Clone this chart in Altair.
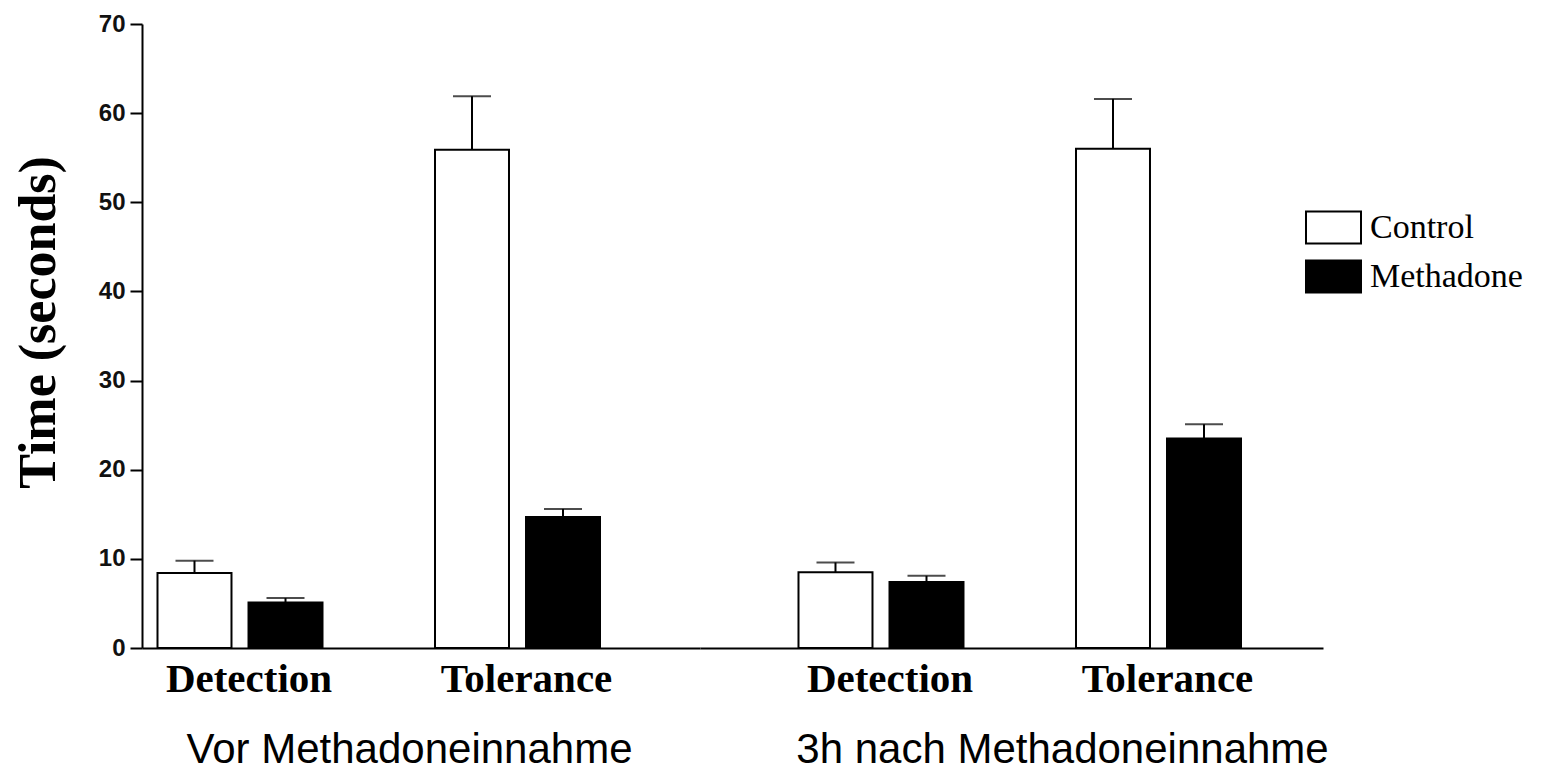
import altair as alt
import pandas as pd

# ---- data ----
measures = ["Detection", "Tolerance"]
phases = ["Vor Methadoneinnahme", "3h nach Methadoneinnahme"]
groups = ["Control", "Methadone"]

# order: Vor/Detection, Vor/Tolerance, 3h/Detection, 3h/Tolerance
control_mean = [8.4, 55.9, 8.5, 56.0]
control_err = [1.4, 6.0, 1.1, 5.6]
methadone_mean = [5.1, 14.7, 7.4, 23.5]
methadone_err = [0.5, 0.9, 0.7, 1.6]

rows = []
for i in range(4):
    ph = phases[i // 2]
    me = measures[i % 2]
    rows.append(dict(phase=ph, measure=me, group="Control",
                     mean=control_mean[i], upper=control_mean[i] + control_err[i]))
    rows.append(dict(phase=ph, measure=me, group="Methadone",
                     mean=methadone_mean[i], upper=methadone_mean[i] + methadone_err[i]))
df = pd.DataFrame(rows)

SANS = "Liberation Sans"
SERIF = "Liberation Serif"

fill = alt.Fill(
    "group:N",
    sort=groups,
    scale=alt.Scale(domain=groups, range=["white", "black"]),
    legend=alt.Legend(
        title=None, orient="none", legendX=1163, legendY=175,
        symbolType="M-1,-0.58H1V0.58H-1Z", symbolSize=3025,
        symbolStrokeColor="black", symbolStrokeWidth=2,
        labelFont=SERIF, labelFontSize=34, labelColor="black",
        labelOffset=8, rowPadding=0, labelLimit=400,
    ),
)


def panel(phase, width, pad_outer, align, title_x, show_y):
    base = alt.Chart(df).transform_filter(alt.datum.phase == phase)
    x = alt.X(
        "measure:N", sort=measures,
        scale=alt.Scale(paddingInner=0.4054, paddingOuter=pad_outer, align=align),
        axis=alt.Axis(
            title=phase, titleX=title_x, titleY=114, titleAlign="center",
            titleBaseline="alphabetic", titleFont=SANS, titleFontSize=42,
            titleFontWeight="normal", titleColor="black",
            labelFont=SERIF, labelFontSize=41, labelFontWeight="bold",
            labelColor="black", labelAngle=0, labelBaseline="alphabetic",
            labelPadding=43, labelOffset=9, ticks=False, tickSize=0,
            domainColor="black", domainWidth=2,
        ),
    )
    xo = alt.XOffset("group:N", sort=groups,
                     scale=alt.Scale(paddingInner=0.187, paddingOuter=0))
    if show_y:
        yax = alt.Axis(
            title="Time (seconds)", titleFont=SERIF, titleFontSize=52,
            titleFontWeight="bold", titleColor="black", titlePadding=33,
            titleY=298,
            labelFont=SANS, labelFontSize=24, labelFontWeight="bold",
            labelColor="#111111", labelPadding=5,
            values=[0, 10, 20, 30, 40, 50, 60, 70],
            tickSize=12, tickWidth=2, tickColor="black",
            domainColor="black", domainWidth=2, grid=False,
        )
    else:
        yax = None
    y = alt.Y("mean:Q", scale=alt.Scale(domain=[0, 70], nice=False, zero=True), axis=yax)
    bars = base.mark_bar(stroke="black", strokeWidth=2).encode(
        x=x, xOffset=xo, y=y, fill=fill)
    rule = base.mark_rule(color="black", strokeWidth=2).encode(
        x=x, xOffset=xo, y="mean:Q", y2="upper:Q")
    cap = base.mark_tick(color="black", thickness=2, size=38).encode(
        x=x, xOffset=xo, y="upper:Q")
    return alt.layer(bars, rule, cap).properties(width=width, height=624)


p1 = panel(phases[0], 558, 0.2081, 0.1342, 267, True)
p2 = panel(phases[1], 623, 0.3252, 0.5457, 362, False)

chart = alt.hconcat(p1, p2, spacing=0, bounds="flush").resolve_scale(
    fill="shared"
).properties(
    padding={"left": 4, "top": 4, "right": 5, "bottom": 0},
    background="white",
).configure_view(stroke=None, strokeWidth=0)

chart.save("out.html", embed_options={"renderer": "svg", "actions": False})
